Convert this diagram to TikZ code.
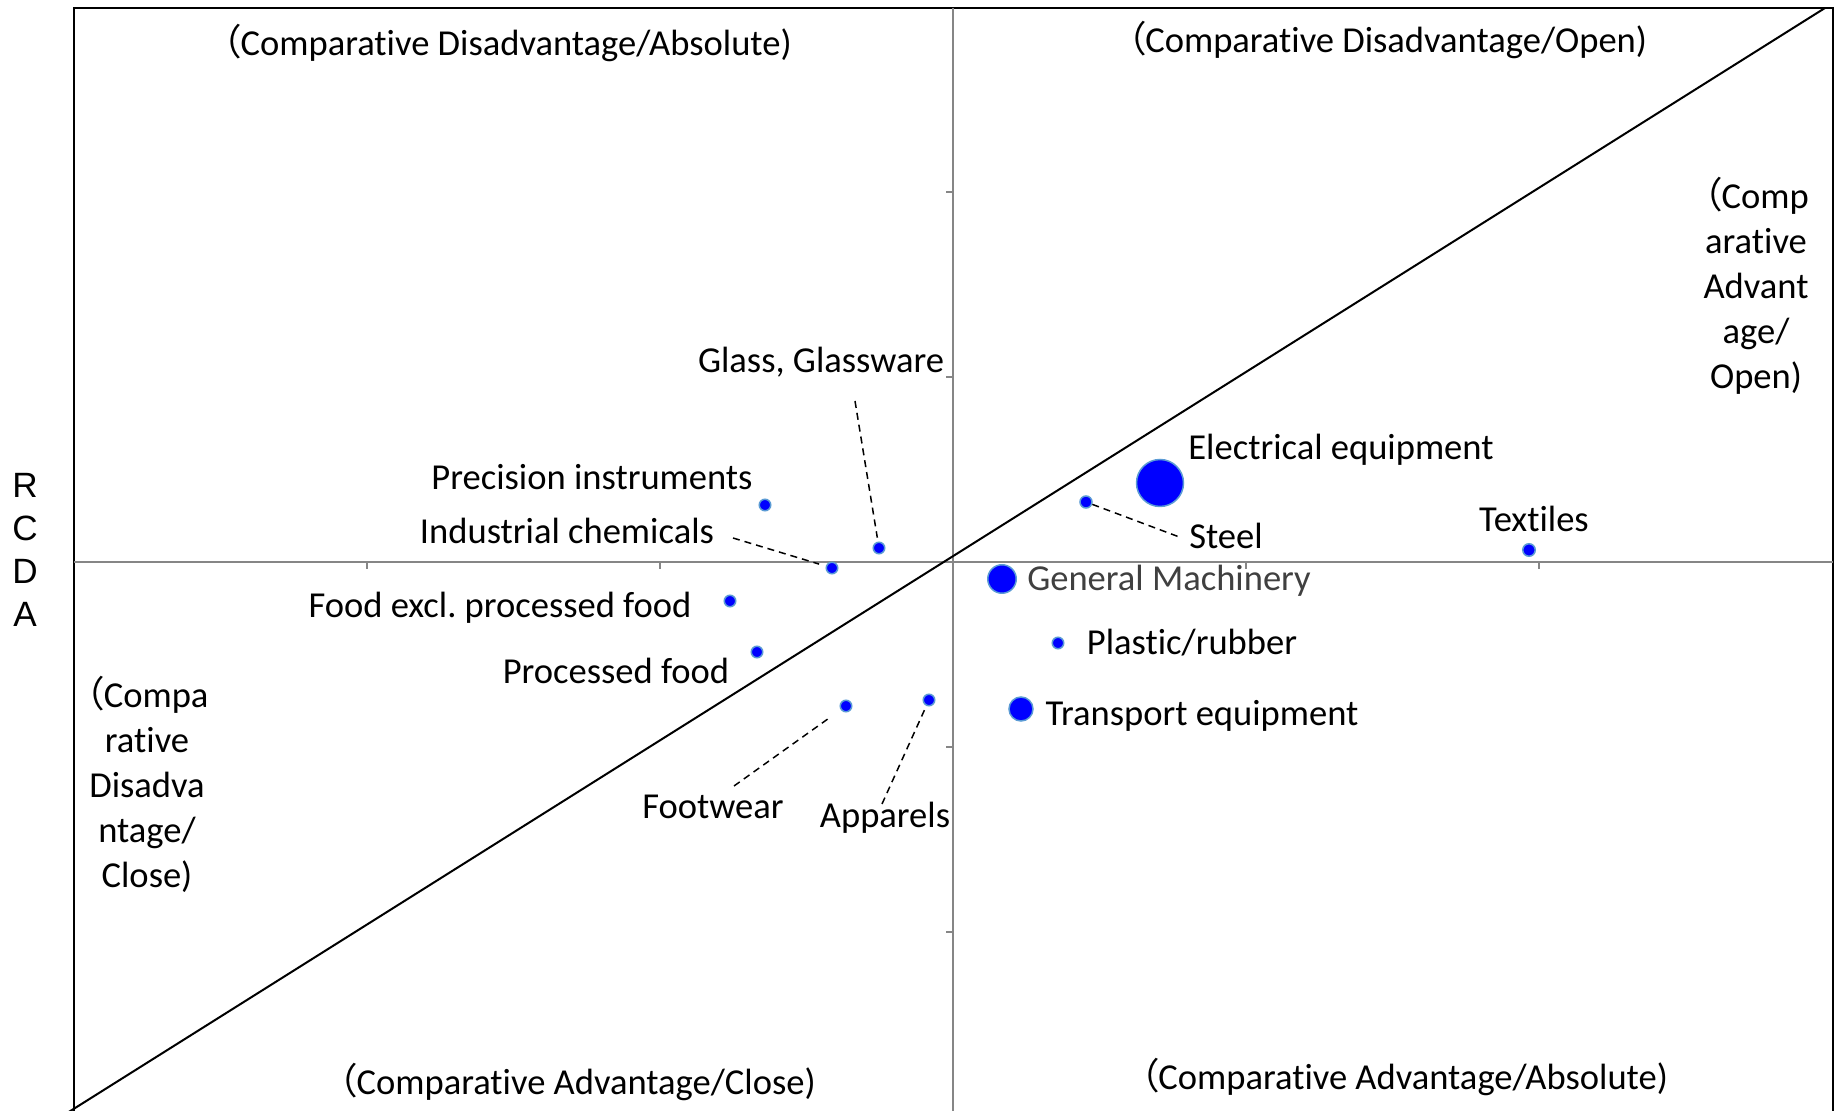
\documentclass[tikz,border=0pt]{standalone}
\usepackage{fontspec}
\setmainfont{Carlito}[Ligatures = NoCommon]
\newfontfamily\cjkfont[RawFeature=+palt]{Noto Sans CJK JP}
\newfontfamily\axisfont{Liberation Sans}
\usetikzlibrary{positioning}

\definecolor{bubblefill}{RGB}{0,0,255}
\definecolor{bubbleedge}{RGB}{91,155,213}
\definecolor{axisgray}{RGB}{134,134,134}

\newcommand{\fwparen}{{\cjkfont （}}

\begin{document}
\begin{tikzpicture}[ x = 0.1mm, y = -0.1mm
                   , font = \fontsize{10.4}{12.8}\selectfont
                   , every node/.style = {inner sep = 0pt}
                   ]

  \tikzset{ bubble/.style = { circle
                            , fill = bubblefill
                            , draw = bubbleedge
                            , line width = 0.15mm
                            , minimum size = #1 }
          , bubble/.default = 1.15mm
          , item/.style = {anchor = base}
          , quad/.style = {align = center}
          , leader/.style = {dash pattern = on 0.7mm off 0.5mm, line width = 0.15mm}
          , axis/.style = {draw = axisgray, line width = 0.2mm}}

  \useasboundingbox (0,0) rectangle (1845,1111);
  \clip (0,0) rectangle (1845,1111);

  %%
  %% Frame, axes and diagonal
  %%
  \draw[line width = 0.2mm] (74,8) rectangle (1833,1120);
  \draw[axis] (74,562) -- (1833,562);
  \draw[axis] (953,8) -- (953,1120);
  \foreach \tx in {367, 660, 1246, 1539}
    \draw[axis] (\tx,562) -- (\tx,569);
  \foreach \ty in {192, 377, 747, 932}
    \draw[axis] (946,\ty) -- (953,\ty);
  \draw[line width = 0.2mm] (64,1115) -- (1825,8);

  %%
  %% Nodes
  %%
  \node (prec)  [bubble]        at (765,505)  {};
  \node (glass) [bubble]        at (879,548)  {};
  \node (chem)  [bubble]        at (832,568)  {};
  \node (foodx) [bubble]        at (730,601)  {};
  \node (proc)  [bubble]        at (757,652)  {};
  \node (foot)  [bubble]        at (846,706)  {};
  \node (app)   [bubble]        at (929,700)  {};
  \node (elec)  [bubble=4.7mm]  at (1160,483) {};
  \node (steel) [bubble=1.2mm]  at (1086,502) {};
  \node (tex)   [bubble=1.25mm] at (1529,550) {};
  \node (gm)    [bubble=2.85mm] at (1002,579) {};
  \node (plast) [bubble]        at (1058,643) {};
  \node (trans) [bubble=2.4mm]  at (1021,709) {};

  \node (precL)  [item] at (592,490)  {Precision instruments};
  \node (glassL) [item] at (821,373)  {Glass, Glassware};
  \node (chemL)  [item] at (567,544)  {Industrial chemicals};
  \node (foodxL) [item] at (500,618)  {Food excl.\ processed food};
  \node (procL)  [item] at (616,684)  {Processed food};
  \node (footL)  [item] at (713,819)  {Footwear};
  \node (appL)   [item] at (885,828)  {Apparels};
  \node (elecL)  [item] at (1341,460) {Electrical equipment};
  \node (steelL) [item] at (1226,549) {Steel};
  \node (texL)   [item] at (1534,532) {Textiles};
  \node (gmL)    [item, text = black!75] at (1169,591) {General Machinery};
  \node (plastL) [item] at (1192,655) {Plastic/rubber};
  \node (transL) [item] at (1202,726) {Transport equipment};

  \node (qTL) [item] at (507,56)   {\fwparen Comparative Disadvantage/Absolute)};
  \node (qTR) [item] at (1387,53)  {\fwparen Comparative Disadvantage/Open)};
  \node (qBL) [item] at (577,1095) {\fwparen Comparative Advantage/Close)};
  \node (qBR) [item] at (1404,1090) {\fwparen Comparative Advantage/Absolute)};
  \node (qR)  [quad] at (1756,286) {\fwparen Comp\\arative\\Advant\\age/\\Open)};
  \node (qL)  [quad] at (147,784)  {\fwparen Compa\\rative\\Disadva\\ntage/\\Close)};

  \node (rcda) [align = center, font = \axisfont\fontsize{10}{12.3}\selectfont]
    at (25,550) {R\\C\\D\\A};

  %%
  %% Leader lines
  %%
  \coordinate (glassA) at (855,401);
  \coordinate (chemA)  at (733,538);
  \coordinate (steelA) at (1182,538);
  \coordinate (footA)  at (734,786);
  \coordinate (appA)   at (882,804);
  \draw[leader, shorten >= 0.4mm] (glassA) -- (glass);
  \draw[leader, shorten >= 0.7mm] (chemA) -- (chem);
  \draw[leader] (steel) -- (steelA);
  \draw[leader, shorten >= 1.4mm] (footA) -- (foot);
  \draw[leader] (appA) -- (app);
\end{tikzpicture}
\end{document}
